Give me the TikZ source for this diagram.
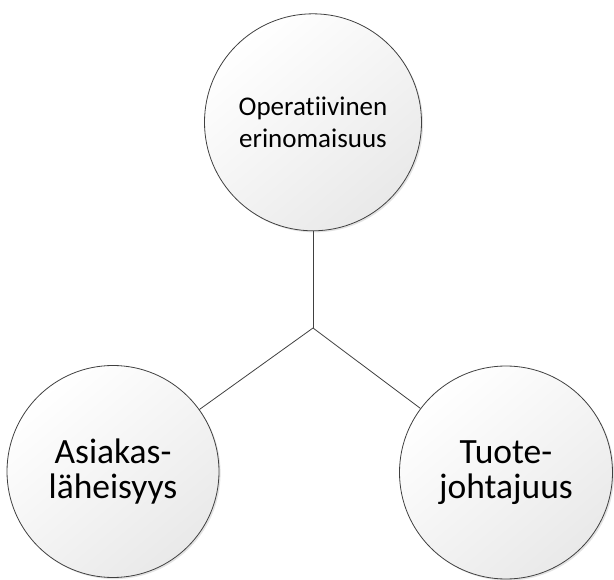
\documentclass[tikz,border=0pt]{standalone}
\usepackage{fontspec}
\setmainfont{Carlito}[Ligatures={NoCommon,NoRare,NoContextual}]
\usetikzlibrary{shadows}
\definecolor{edge}{HTML}{404040}
\definecolor{disc}{HTML}{E9E9E9}
\tikzset{
  ball/.style={circle, draw=edge, line width=0.8pt, inner sep=0pt, align=center,
    top color=white, bottom color=disc, shading angle=40,
    drop shadow={shadow xshift=1.6pt, shadow yshift=-1.6pt, opacity=0.22, fill=gray}},
  link/.style={draw=edge, line width=0.8pt},
  smalltxt/.style={font=\fontsize{27}{31.7}\selectfont},
  bigtxt/.style={font=\fontsize{35.5}{34.5}\selectfont}
}
\begin{document}
\begin{tikzpicture}[x=1pt, y=-1pt]
  \useasboundingbox (0,0) rectangle (614,580);
  \node[ball, smalltxt, minimum size=217pt] (top) at (313,122.3) {\raisebox{-3pt}{\parbox{200pt}{\centering Operatiivinen\\erinomaisuus}}};
  \node[ball, bigtxt, minimum size=212pt] (left) at (113,471.5) {Asiakas-\\läheisyys};
  \node[ball, bigtxt, minimum size=213pt] (right) at (506,472.5) {Tuote-\\johtajuus};
  \coordinate (hub) at (313,328);
  \draw[link] (top) -- (hub);
  \draw[link] (hub) -- (left);
  \draw[link] (hub) -- (right);
\end{tikzpicture}
\end{document}
